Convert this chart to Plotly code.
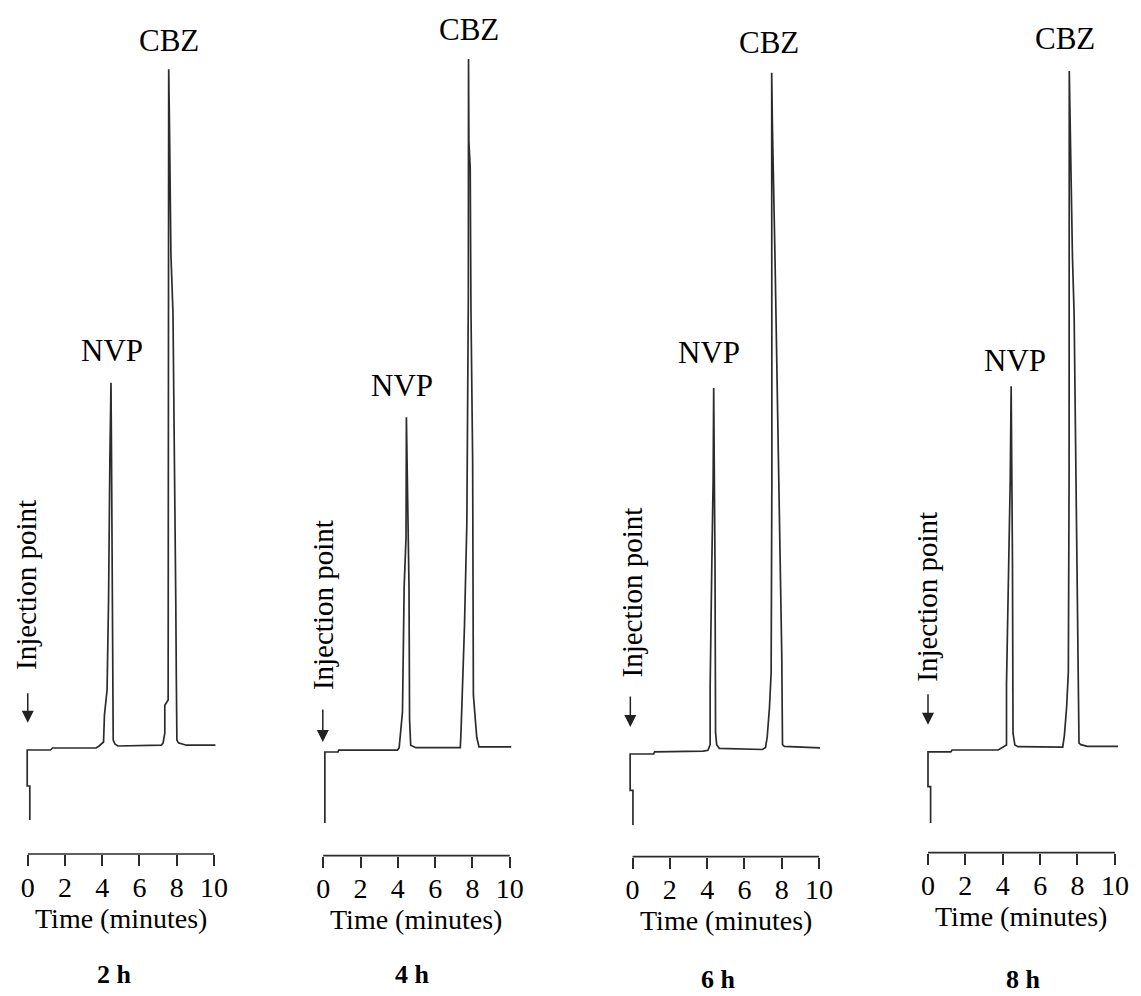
import plotly.graph_objects as go

# ---------------- data ----------------
sample_labels = ["2 h", "4 h", "6 h", "8 h"]
tick_values = [0, 2, 4, 6, 8, 10]
axis_title = "Time (minutes)"
peak_names = ["NVP", "CBZ"]
injection_label = "Injection point"

# time in minutes, detector response (arbitrary units)
t_2h = [0.11, 0.11, -0.03, -0.03, 1.22, 1.33, 3.67, 3.83, 4.07, 4.12, 4.26, 4.34, 4.41, 4.47,
        4.50, 4.54, 4.56, 4.59, 4.68, 4.84, 7.18, 7.27, 7.36, 7.36, 7.54, 7.55, 7.57,
        7.61, 7.69, 7.80, 7.89, 7.95, 7.98, 8.01, 8.09, 8.51, 10.08]
s_2h = [4.25, 8.5, 8.5, 13.0, 13.0, 13.25, 13.25, 13.5, 14.0, 17.4, 20.5, 31.75, 49.25, 58.9,
        49.25, 31.75, 19.25, 14.25, 13.75, 13.5, 13.6, 13.9, 15.1, 18.6, 19.25, 49.25, 98.1,
        91.4, 74.9, 67.6, 49.25, 31.75, 21.75, 14.25, 13.9, 13.6, 13.6]

t_4h = [0.09, 0.09, 0.80, 0.83, 3.98, 4.07, 4.12, 4.25, 4.34, 4.44, 4.46,
        4.56, 4.60, 4.63, 4.69, 4.96, 6.99, 7.35, 7.39, 7.43, 7.57, 7.70, 7.78, 7.79,
        7.81, 7.88, 7.92, 8.01, 8.05, 8.23, 8.35, 10.08]
s_4h = [4.1, 12.96, 12.96, 13.2, 13.2, 13.46, 14.7, 17.96, 33.6, 39.8, 54.8,
        39.8, 33.6, 17.0, 13.8, 13.5, 13.5, 13.5, 15.7, 18.6, 28.5, 41.6, 70.0, 99.6,
        89.2, 86.0, 68.2, 49.5, 20.1, 14.8, 13.6, 13.6]

t_6h = [0.02, 0.02, -0.13, -0.13, 1.13, 1.18, 3.79, 4.04, 4.16, 4.16, 4.25, 4.32, 4.35,
        4.39, 4.42, 4.45, 4.51, 4.65, 6.96, 7.13, 7.22, 7.34, 7.43, 7.47, 7.46,
        7.50, 7.64, 7.69, 7.84, 7.92, 8.00, 8.04, 8.14, 10.05]
s_6h = [3.96, 8.3, 8.3, 12.84, 12.84, 13.1, 13.2, 13.3, 14.0, 21.2, 36.7, 47.1, 58.6,
        47.1, 36.7, 15.5, 14.0, 13.55, 13.4, 13.65, 14.96, 18.6, 22.96, 47.1, 98.0,
        91.2, 74.6, 67.5, 49.6, 37.7, 25.2, 14.0, 13.8, 13.6]

t_8h = [0.14, 0.14, 0.0, 0.0, 1.22, 1.29, 3.76, 4.06, 4.20, 4.20, 4.33, 4.40, 4.45,
        4.49, 4.52, 4.55, 4.65, 4.82, 7.21, 7.30, 7.42, 7.51, 7.55, 7.56,
        7.60, 7.73, 7.82, 7.90, 7.96, 8.04, 8.08, 8.18, 8.53, 10.17]
s_8h = [3.7, 8.25, 8.25, 12.6, 12.6, 12.84, 12.84, 13.25, 13.46, 20.96, 36.4, 46.6, 58.3,
        46.6, 36.4, 14.9, 13.46, 13.25, 13.2, 14.7, 18.25, 22.6, 46.6, 97.7,
        91.0, 74.5, 67.2, 49.1, 37.6, 25.0, 13.7, 13.5, 13.3, 13.3]

times = [t_2h, t_4h, t_6h, t_8h]
signals = [s_2h, s_4h, s_6h, s_8h]

# ---------------- layout geometry ----------------
W, H = 1141, 996
FONT = "Liberation Serif"
LINE = "#2b2b2b"
XR = [-0.2, 10.3]
YR = [0, 100]
# per panel: pixel of t=0, pixels per minute, pixel row of time axis
geom = [(25.0, 18.8, 854.0), (323.3, 18.84, 855.7), (635.7, 18.83, 856.7), (934.0, 18.87, 852.7)]
nvp_pos = [(4.52, 62.9), (4.20, 58.8), (4.11, 63.0), (4.66, 61.5)]
cbz_pos = [(7.61, 41), (7.84, 29), (7.29, 43), (7.31, 38)]
inj_pos = [(-0.11, 33.6), (-0.02, 31.3), (-0.04, 33.0), (-0.05, 32.0)]
arrow_tip = [((0.0, 16.4), 31), ((-0.02, 14.2), 34), ((-0.12, 16.2), 32), ((0.0, 16.0), 32)]
sample_px = [(113, 974), (413, 974), (722, 979), (1030, 979)]

fig = go.Figure()
annotations = []
shapes = []
layout_axes = {}

for i in range(4):
    n = "" if i == 0 else str(i + 1)
    px0, sc, ay = geom[i]
    xd = [(px0 + XR[0] * sc) / W, (px0 + XR[1] * sc) / W]
    yd = [(H - ay) / H, (H - (ay - 8.0 * (YR[1] - YR[0]))) / H]
    fig.add_trace(go.Scatter(x=times[i], y=signals[i], mode="lines",
                             line=dict(color=LINE, width=1.7),
                             xaxis="x" + n, yaxis="y" + n, showlegend=False,
                             hoverinfo="skip"))
    layout_axes["xaxis" + n] = dict(
        domain=xd, range=XR, anchor="y" + n, showline=False, showgrid=False,
        zeroline=False, ticks="outside", ticklen=11, tickwidth=1.6, tickcolor=LINE,
        tickvals=tick_values, ticktext=[str(v) for v in tick_values],
        tickfont=dict(family=FONT, size=28, color="black"), ticklabelstandoff=-3,
        fixedrange=True)
    layout_axes["yaxis" + n] = dict(domain=yd, range=YR, anchor="x" + n, visible=False,
                                    fixedrange=True)
    # time axis line from 0 to 10
    shapes.append(dict(type="line", xref="x" + n, yref="paper", x0=0, x1=10,
                       y0=yd[0], y1=yd[0], line=dict(color=LINE, width=1.7)))
    # axis title
    annotations.append(dict(xref="x" + n, yref="paper", x=5, y=(H - ay - 64) / H,
                            text=axis_title, showarrow=False, xanchor="center", yanchor="middle",
                            font=dict(family=FONT, size=28, color="black")))
    # peak labels
    annotations.append(dict(xref="x" + n, yref="y" + n, x=nvp_pos[i][0], y=nvp_pos[i][1],
                            text=peak_names[0], showarrow=False,
                            xanchor="center", yanchor="middle",
                            font=dict(family=FONT, size=31, color="black")))
    annotations.append(dict(xref="x" + n, yref="paper", x=cbz_pos[i][0],
                            y=(H - cbz_pos[i][1]) / H,
                            text=peak_names[1], showarrow=False,
                            xanchor="center", yanchor="middle",
                            font=dict(family=FONT, size=31, color="black")))
    # injection point
    annotations.append(dict(xref="x" + n, yref="y" + n, x=inj_pos[i][0], y=inj_pos[i][1],
                            text=injection_label, textangle=-90, showarrow=False,
                            xanchor="center", yanchor="middle",
                            font=dict(family=FONT, size=29, color="black")))
    (tx, ty), alen = arrow_tip[i]
    annotations.append(dict(xref="x" + n, yref="y" + n, x=tx, y=ty, text="",
                            showarrow=True, axref="pixel", ayref="pixel", ax=0, ay=-alen,
                            arrowhead=2, arrowsize=1.6, arrowwidth=1.5, arrowcolor="#222222"))
    # sample time label
    annotations.append(dict(xref="paper", yref="paper", x=sample_px[i][0] / W,
                            y=(H - sample_px[i][1]) / H, text="<b>" + sample_labels[i] + "</b>",
                            showarrow=False, xanchor="center", yanchor="middle",
                            font=dict(family=FONT, size=26, color="black")))

fig.update_layout(width=W, height=H, margin=dict(l=0, r=0, t=0, b=0),
                  paper_bgcolor="white", plot_bgcolor="white",
                  font=dict(family=FONT, color="black"),
                  annotations=annotations, shapes=shapes, **layout_axes)

fig.write_html("out.html")
